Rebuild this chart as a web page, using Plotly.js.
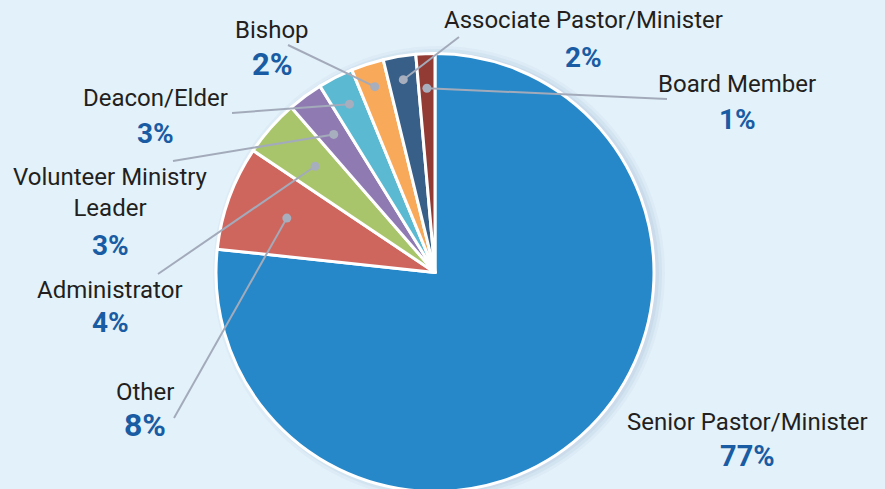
<!DOCTYPE html>
<html>
<head>
<meta charset="utf-8">
<script src="https://cdn.plot.ly/plotly-3.0.1.min.js"></script>
<style>html,body{margin:0;padding:0;background:#e3f2fa;overflow:hidden}</style>
</head>
<body>
<div id="chart" style="width:885px;height:492px"></div>
<script>
// ---- data ----
var categories = ["Senior Pastor/Minister", "Other", "Administrator", "Volunteer Ministry<br>Leader", "Deacon/Elder", "Bishop", "Associate Pastor/Minister", "Board Member"];
var shares = [76.7, 7.7, 4.2, 2.6, 2.6, 2.4, 2.4, 1.4];
var colors = ["#2688c8", "#cf665e", "#a9c56b", "#8f7bb2", "#5bb9d1", "#f8a95a", "#375f88", "#923b35"];

// ---- layout settings (positions in px) ----
var W = 885, H = 492, MT = 53, MB = 0;
var CX = 435, CY = 272, R = 219;
var nameX  = [747, 145, 110, 110, 155, 272, 583, 737];
var nameY  = [422, 392, 290, 192, 98, 30, 20, 84];
var pctY   = [456, 425, 322, 245, 133, 65, 58, 120];
var pctSize = [29, 32, 28, 28, 28, 31, 28, 28];
var dotFrac = [null, 0.72, 0.73, 0.78, 0.86, 0.89, 0.89, 0.84];
var lineStart = [null, [174, 418], [158, 274], [173, 161], [232, 113], [288, 45], [459, 37], [667, 99]];

var PH = H - MT - MB;
function px2x(px) { return px / W; }
function px2y(py) { return 1 - (py - MT) / PH; }

var total = shares.reduce(function (a, b) { return a + b; }, 0);
var annotations = [], shapes = [];

// soft shadow on right side of pie
[[3, 0.07], [6, 0.06], [9, 0.05]].forEach(function (s) {
  shapes.push({type: "circle", xref: "paper", yref: "paper", layer: "below",
    x0: px2x(CX + 2 - R - s[0] + 4), x1: px2x(CX + 2 + R + s[0]),
    y0: px2y(CY + R + s[0]), y1: px2y(CY - R - s[0] + 2),
    fillcolor: "rgba(90,120,170," + s[1] + ")", line: {width: 0}});
});

var cum = 0;
for (var i = 0; i < categories.length; i++) {
  var mid = (cum + shares[i] / 2) / total * 2 * Math.PI;
  cum += shares[i];
  annotations.push({xref: "paper", yref: "paper", x: px2x(nameX[i]), y: px2y(nameY[i]),
    xanchor: "center", yanchor: "middle", showarrow: false, text: categories[i],
    font: {family: "Roboto, sans-serif", size: 24, color: "#231f20"}});
  annotations.push({xref: "paper", yref: "paper", x: px2x(nameX[i]), y: px2y(pctY[i]),
    xanchor: "center", yanchor: "middle", showarrow: false, text: Math.round(shares[i]) + "%",
    font: {family: "Roboto, sans-serif", size: pctSize[i], color: "#1a5ca3", weight: 700}});
  if (dotFrac[i] !== null) {
    var dx = CX + dotFrac[i] * R * Math.sin(mid);
    var dy = CY - dotFrac[i] * R * Math.cos(mid);
    shapes.push({type: "line", xref: "paper", yref: "paper", layer: "above",
      x0: px2x(lineStart[i][0]), y0: px2y(lineStart[i][1]), x1: px2x(dx), y1: px2y(dy),
      line: {color: "#a3abbb", width: 2}});
    shapes.push({type: "circle", xref: "paper", yref: "paper", layer: "above",
      xsizemode: "pixel", ysizemode: "pixel", xanchor: px2x(dx), yanchor: px2y(dy),
      x0: -4.5, x1: 4.5, y0: -4.5, y1: 4.5,
      fillcolor: "#a7aebd", line: {width: 0}});
  }
}

var trace = {
  type: "pie",
  labels: categories,
  values: shares,
  sort: false,
  direction: "clockwise",
  rotation: 0,
  textinfo: "none",
  hoverinfo: "skip",
  showlegend: false,
  marker: {colors: colors, line: {color: "#ffffff", width: 3}},
  domain: {x: [(CX - R) / W, (CX + R) / W], y: [0, 1]}
};

var layout = {
  width: W, height: H,
  margin: {l: 0, r: 0, t: MT, b: MB},
  paper_bgcolor: "#e3f2fa",
  plot_bgcolor: "#e3f2fa",
  showlegend: false,
  annotations: annotations,
  shapes: shapes
};

Plotly.newPlot("chart", [trace], layout, {displayModeBar: false, staticPlot: true});
</script>
</body>
</html>
